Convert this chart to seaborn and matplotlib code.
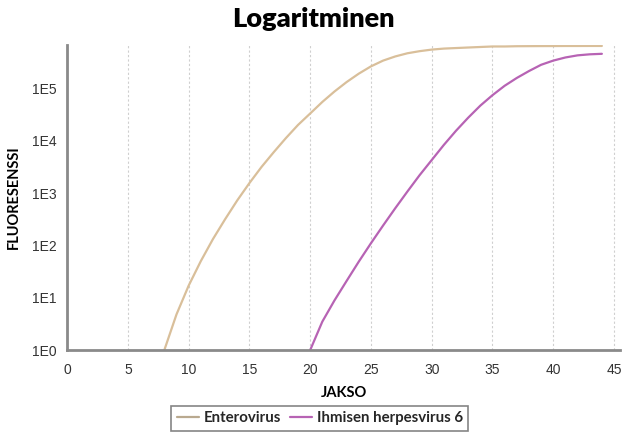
import numpy as np
import pandas as pd
import matplotlib.pyplot as plt
import seaborn as sns
from matplotlib.ticker import NullLocator

# fluorescence
entero_cycles = list(range(8, 45))
entero_values = [1, 4.8, 17, 50, 132, 316, 724, 1550, 3160, 6030, 11200, 20000,
                 33100, 55000, 87100, 132000, 191000, 263000, 339000, 407000,
                 468000, 513000, 550000, 575000, 589000, 603000, 617000, 631000,
                 631000, 638000, 640000, 642000, 643000, 645000, 645000, 646000, 646000]
hhv6_cycles = list(range(20, 45))
hhv6_values = [1, 3.5, 8.9, 21, 49, 110, 240, 513, 1070, 2190, 4270, 8320, 15500,
               27500, 46800, 74100, 112000, 158000, 214000, 282000, 339000,
               389000, 427000, 447000, 457000]
series_names = ["Enterovirus", "Ihmisen herpesvirus 6"]

df = pd.concat([
    pd.DataFrame({"JAKSO": entero_cycles, "FLUORESENSSI": entero_values, "target": series_names[0]}),
    pd.DataFrame({"JAKSO": hhv6_cycles, "FLUORESENSSI": hhv6_values, "target": series_names[1]}),
])

sns.set_style("white")
plt.rcParams['font.family'] = ['Lato', 'DejaVu Sans']

fig = plt.figure(figsize=(6.27, 4.36), dpi=100)
ax = fig.add_axes([0.107, 0.197, 0.882, 0.70])

palette = {"Enterovirus": "#d9bf9a", "Ihmisen herpesvirus 6": "#b763b4"}
sns.lineplot(data=df, x="JAKSO", y="FLUORESENSSI", hue="target", palette=palette,
             linewidth=1.6, ax=ax, legend=False)

ax.set_yscale("log")
ax.set_ylim(1, 10 ** 5.83)
ax.set_xlim(0, 45.5)
ax.set_yticks([10 ** i for i in range(6)], [f"1E{i}" for i in range(6)])
ax.yaxis.set_minor_locator(NullLocator())
ax.set_xticks(range(0, 50, 5))

for x in range(5, 50, 5):
    ax.axvline(x, color="#cfcfcf", linestyle=(0, (2, 2)), linewidth=0.8, zorder=0)

for s in ["top", "right"]:
    ax.spines[s].set_visible(False)
for s in ["left", "bottom"]:
    ax.spines[s].set_color("#8a8a8a")
    ax.spines[s].set_linewidth(2)

ax.tick_params(axis="both", direction="out", length=4, width=1, color="#8a8a8a",
               labelsize=10, labelcolor="#333333")
ax.tick_params(axis="x", pad=5)
for lbl in ax.get_xticklabels() + ax.get_yticklabels():
    lbl.set_family("Liberation Sans")

ax.set_xlabel("JAKSO", fontsize=10.5, fontweight="bold", labelpad=7, color="black")
ax.set_ylabel("FLUORESENSSI", fontsize=10.5, fontweight="bold", labelpad=8, color="black")
fig.suptitle("Logaritminen", fontsize=19.5, fontweight="heavy", y=0.985, color="black")

handles = [plt.Line2D([], [], color="#b9a98f", linewidth=1.6),
           plt.Line2D([], [], color=palette[series_names[1]], linewidth=1.6)]
leg = fig.legend(handles, series_names, loc="lower center", bbox_to_anchor=(0.51, -0.005),
                 ncol=2, frameon=True, fancybox=False, handlelength=1.5, handletextpad=0.3,
                 columnspacing=0.6, borderpad=0.35,
                 prop={"size": 10.8, "weight": "bold", "family": ["Lato", "DejaVu Sans"]})
leg.get_frame().set_edgecolor("#666666")
leg.get_frame().set_linewidth(1.2)

fig.savefig("out.png", dpi=100)
